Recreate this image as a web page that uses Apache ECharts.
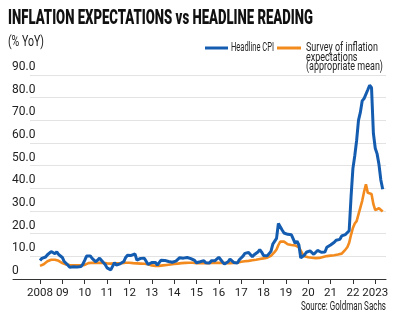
<!DOCTYPE html>
<html>
<head>
<meta charset="utf-8">
<script src="https://cdn.jsdelivr.net/npm/echarts@6/dist/echarts.min.js"></script>
<style>
html,body{margin:0;padding:0;background:#fff;}
#c{width:400px;height:322px;}
</style>
</head>
<body>
<div id="c"></div>
<script>
// ---- data ----
const startYear = 2008;
const yearTicks = [2008,2009,2010,2011,2012,2013,2014,2015,2016,2017,2018,2019,2020,2021,2022,2023];
const yTicks = [0,10,20,30,40,50,60,70,80,90];
const seriesNames = ['Headline CPI', 'Survey of inflation expectations (appropriate mean)'];
// monthly, Jan 2008 - May 2023
const cpi = [
  8.2, 9.1, 9.2, 9.7, 10.7, 10.6, 12.1, 11.8, 11.1, 12.0, 10.8, 10.1,
  9.5, 7.7, 7.9, 6.1, 5.2, 5.7, 5.4, 5.3, 5.3, 5.1, 5.5, 6.5,
  8.2, 10.1, 9.6, 10.2, 9.1, 8.4, 7.6, 8.3, 9.2, 8.6, 7.3, 6.4,
  4.9, 4.2, 4.0, 4.3, 7.2, 6.2, 6.3, 6.7, 6.2, 7.7, 9.5, 10.5,
  10.6, 10.4, 10.4, 11.1, 8.3, 8.9, 9.1, 8.9, 9.2, 7.8, 6.4, 6.2,
  7.3, 7.0, 7.3, 6.1, 6.5, 8.3, 8.9, 8.2, 7.9, 7.7, 7.3, 7.4,
  7.8, 7.9, 8.4, 9.4, 9.7, 9.2, 9.3, 9.5, 8.9, 9.0, 9.2, 8.2,
  7.2, 7.6, 7.6, 7.9, 8.1, 7.2, 6.8, 7.1, 8.0, 7.6, 8.1, 8.8,
  9.6, 8.8, 7.5, 6.6, 6.6, 7.6, 8.8, 8.1, 7.3, 7.2, 7.0, 8.5,
  9.2, 10.1, 11.3, 11.9, 11.7, 10.9, 9.8, 10.7, 11.2, 11.9, 13.0, 11.9,
  10.4, 10.3, 10.2, 10.9, 12.2, 15.4, 15.9, 17.9, 24.5, 25.2, 21.6, 20.3,
  20.4, 19.7, 19.7, 19.5, 18.7, 15.7, 16.7, 15.0, 9.3, 8.6, 10.6, 11.8,
  12.2, 12.4, 11.9, 10.9, 11.4, 12.6, 11.8, 11.8, 11.8, 11.9, 14.0, 14.6,
  15.0, 15.6, 16.2, 17.1, 16.6, 17.5, 19.0, 19.3, 19.6, 19.9, 21.3, 36.1,
  48.7, 54.4, 61.1, 70.0, 73.5, 78.6, 79.6, 80.2, 83.5, 85.5, 84.4, 64.3,
  57.7, 55.2, 50.5, 43.7, 39.6
];
const survey = [
  5.8, 5.9, 6.5, 7.2, 7.8, 8.2, 8.5, 8.6, 8.5, 8.4, 8.0, 7.5,
  7.0, 6.6, 6.4, 6.3, 6.2, 6.2, 6.1, 6.0, 6.0, 6.0, 6.0, 6.0,
  6.2, 6.6, 7.0, 7.2, 7.2, 7.2, 7.1, 7.1, 7.2, 7.2, 7.1, 7.0,
  6.9, 6.8, 6.8, 6.8, 6.9, 6.9, 6.9, 7.0, 7.0, 7.1, 7.2, 7.2,
  7.2, 7.2, 7.0, 7.0, 6.9, 6.9, 6.8, 6.8, 6.7, 6.6, 6.5, 6.3,
  6.0, 5.9, 5.8, 5.8, 5.8, 5.9, 6.0, 6.1, 6.2, 6.3, 6.4, 6.5,
  6.6, 6.7, 6.8, 6.9, 7.0, 7.0, 7.1, 7.1, 7.2, 7.2, 7.2, 7.1,
  7.0, 7.0, 7.0, 7.0, 7.0, 7.0, 7.0, 7.0, 7.1, 7.1, 7.1, 7.2,
  7.2, 7.2, 7.1, 7.0, 7.0, 7.0, 7.0, 7.1, 7.1, 7.1, 7.2, 7.3,
  7.6, 7.7, 7.8, 7.9, 8.0, 8.1, 8.3, 8.4, 8.5, 8.7, 8.8, 9.0,
  9.1, 9.2, 9.4, 9.6, 10.2, 11.0, 12.0, 13.0, 15.0, 16.5, 17.2, 16.5,
  15.8, 15.3, 15.1, 15.0, 15.0, 14.8, 14.5, 14.0, 12.5, 11.0, 10.0, 9.8,
  9.6, 9.5, 9.4, 9.3, 9.2, 9.2, 9.3, 9.5, 9.7, 10.0, 10.1, 10.2,
  10.3, 10.4, 10.5, 10.6, 10.8, 11.0, 11.2, 12.0, 13.0, 14.0, 16.0, 19.5,
  22.5, 24.5, 25.5, 28.5, 31.5, 34.5, 38.5, 41.8, 38.0, 37.2, 37.5, 33.0,
  30.4, 30.7, 31.2, 30.9, 29.8
];

// ---- build ----
const toPairs = arr => arr.map((v, i) => [startYear + i / 12, v]);
const BLUE = '#145cb0', ORANGE = '#f28a1e';
const axisFont = "Roboto, 'Liberation Sans', sans-serif";

const mctx = document.createElement('canvas').getContext('2d');
function fitScale(text, font, target) {
  mctx.font = font;
  return target / mctx.measureText(text).width;
}

const titleFont = "900 21px Roboto, 'Liberation Sans', sans-serif";
const titleText = 'INFLATION EXPECTATIONS vs HEADLINE READING';
const subFont = "14px Roboto, 'Liberation Sans', sans-serif";
const legFont = "12.5px Roboto, 'Liberation Sans', sans-serif";
const srcFont = "12.5px Roboto, 'Liberation Sans', sans-serif";
const legScale = fitScale('(appropriate mean)', legFont, 77);
const cpiScale = fitScale('Headline CPI', legFont, 43);

// x scale: 2008 at px 40, 22.35 px per year, plot right edge at 386
const pxPerYear = 22.35, x2008 = 40, rightPx = 386;
const plotMinX = startYear - (x2008 - 30) / pxPerYear;
const axisMinX = startYear - (x2008 - 13) / pxPerYear;
const maxX = startYear + (rightPx - x2008) / pxPerYear;

const chart = echarts.init(document.getElementById('c'));
chart.setOption({
  animation: false,
  backgroundColor: '#fff',
  grid: [
    {left: 30, right: 400 - rightPx, top: 75, bottom: 43},
    {left: 13, right: 400 - rightPx, top: 75, bottom: 43}
  ],
  xAxis: [
    {type: 'value', gridIndex: 0, min: plotMinX, max: maxX, show: false, splitLine: {show: false}},
    {type: 'value', gridIndex: 1, min: axisMinX, max: maxX,
      axisLine: {show: true, lineStyle: {color: '#333', width: 1}},
      axisTick: {show: true, length: 5, lineStyle: {color: '#333'}, customValues: yearTicks},
      axisLabel: {show: true, customValues: yearTicks, margin: 8, color: '#222', fontSize: 11.5, fontFamily: axisFont,
        formatter: v => { const y = Math.round(v); return (y === 2008 || y === 2023) ? String(y) : String(y % 100).padStart(2, '0'); }},
      splitLine: {show: false}}
  ],
  yAxis: [
    {type: 'value', gridIndex: 0, min: 0, max: 90, interval: 10,
      axisLine: {show: false}, axisTick: {show: false},
      splitLine: {show: true, lineStyle: {color: '#e3e3e3', width: 1}},
      axisLabel: {show: true, align: 'left', verticalAlign: 'bottom', margin: 18, padding: [0, 0, 2, 0],
        color: '#222', fontSize: 12, fontFamily: axisFont,
        formatter: v => v === 0 ? '0' : v.toFixed(1)}},
    {type: 'value', gridIndex: 1, min: 0, max: 90, show: false, splitLine: {show: false}}
  ],
  series: [
    {name: seriesNames[1], type: 'line', xAxisIndex: 0, yAxisIndex: 0, data: toPairs(survey),
      showSymbol: false, lineStyle: {color: ORANGE, width: 2.6}, itemStyle: {color: ORANGE}, z: 2},
    {name: seriesNames[0], type: 'line', xAxisIndex: 0, yAxisIndex: 0, data: toPairs(cpi),
      showSymbol: false, lineStyle: {color: BLUE, width: 3}, itemStyle: {color: BLUE}, z: 3}
  ],
  graphic: [
    {type: 'text', x: 8, y: 8, scaleX: fitScale(titleText, titleFont, 305),
      style: {text: titleText, font: titleFont, fill: '#111', textVerticalAlign: 'top'}},
    {type: 'text', x: 8, y: 35, scaleX: fitScale('(% YoY)', subFont, 36),
      style: {text: '(% YoY)', font: subFont, fill: '#222', textVerticalAlign: 'top'}},
    {type: 'line', shape: {x1: 205, y1: 48, x2: 228, y2: 48}, style: {stroke: BLUE, lineWidth: 3}},
    {type: 'text', x: 231, y: 48, scaleX: cpiScale,
      style: {text: 'Headline CPI', font: legFont, fill: '#222', textVerticalAlign: 'middle'}},
    {type: 'line', shape: {x1: 277, y1: 48, x2: 301, y2: 48}, style: {stroke: ORANGE, lineWidth: 3}},
    {type: 'text', x: 306, y: 48, scaleX: legScale,
      style: {text: 'Survey of inflation', font: legFont, fill: '#222', textVerticalAlign: 'middle'}},
    {type: 'text', x: 306, y: 57.5, scaleX: legScale,
      style: {text: 'expectations', font: legFont, fill: '#222', textVerticalAlign: 'middle'}},
    {type: 'text', x: 306, y: 67, scaleX: legScale,
      style: {text: '(appropriate mean)', font: legFont, fill: '#222', textVerticalAlign: 'middle'}},
    {type: 'text', x: 386, y: 307, scaleX: fitScale('Source: Goldman Sachs', srcFont, 85),
      style: {text: 'Source: Goldman Sachs', font: srcFont, fill: '#222', textAlign: 'right', textVerticalAlign: 'middle'}}
  ]
});
</script>
</body>
</html>
